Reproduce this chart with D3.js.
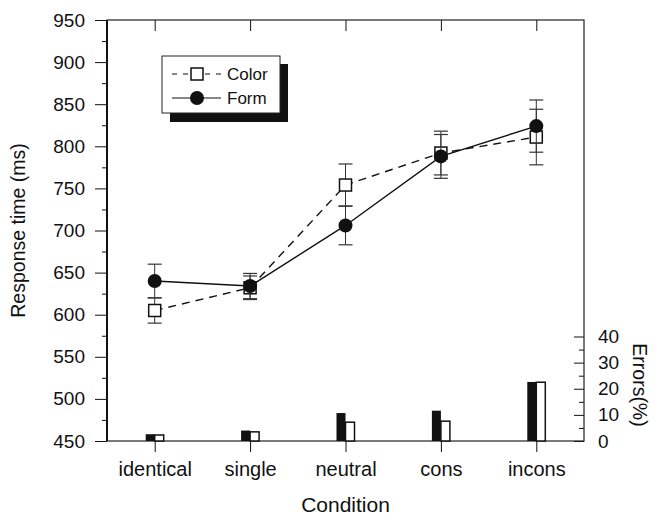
<!DOCTYPE html>
<html>
<head>
<meta charset="utf-8">
<script src="https://cdn.jsdelivr.net/npm/d3@7"></script>
<style>
  body { margin: 0; background: #fff; }
  svg { display: block; font-family: "Liberation Sans", Arial, sans-serif; }
  .axis text { font-size: 19px; fill: #111; }
  .axis line { stroke: #111; }
</style>
</head>
<body>
<svg id="chart" width="660" height="519"></svg>
<script>
// DATA
const conditions = ["identical", "single", "neutral", "cons", "incons"];
const colorRT = [605, 632, 754, 792, 811];
const colorSE = [15, 14, 25, 26, 33];
const formRT = [640, 634, 706, 788, 824];
const formSE = [20, 15, 23, 26, 31];
const formErrors = [2.6, 4, 10.7, 11.6, 22.6];
const colorErrors = [2.3, 3.5, 7.2, 7.6, 22.5];
const rtTicks = [450, 500, 550, 600, 650, 700, 750, 800, 850, 900, 950];
const rtMinor = [475, 525, 575, 625, 675, 725, 775, 825, 875, 925];
const errTicks = [0, 10, 20, 30, 40];
const errMinor = [5, 15, 25, 35];

const svg = d3.select("#chart");

let margin = { top: 20, right: 76, bottom: 78, left: 107 };
const width = 660 - margin.left - margin.right,
  height = 519 - margin.top - margin.bottom;

const g = svg.append("g").attr("transform", `translate(${margin.left},${margin.top})`);

const xScale = d3.scaleLinear().domain([0.5, 5.5]).range([0, width]);
const yScale = d3.scaleLinear().domain([450, 950]).range([height, 0]);
const yErr = d3.scaleLinear().domain([0, 40]).range([height, height - 104.5]);

// AXES
g.append("g").attr("class", "axis")
  .call(d3.axisLeft(yScale).tickValues(rtTicks).tickSize(12).tickPadding(10).tickSizeOuter(0));
g.append("g").attr("class", "axis")
  .call(d3.axisLeft(yScale).tickValues(rtMinor).tickSize(5).tickFormat(""));

g.append("g").attr("class", "axis")
  .attr("transform", `translate(0,${height})`)
  .call(d3.axisBottom(xScale).tickValues([1, 2, 3, 4, 5]).tickSize(11).tickPadding(10)
    .tickFormat((d) => conditions[d - 1]))
  .call((a) => a.selectAll("text").style("font-size", "20px"));

g.append("g").attr("class", "axis")
  .call(d3.axisTop(xScale).tickValues([1, 2, 3, 4, 5]).tickSize(-11).tickFormat(""));

g.append("g").attr("class", "axis")
  .attr("transform", `translate(${width},0)`)
  .call(d3.axisRight(yErr).tickValues(errTicks).tickSize(-10).tickPadding(14));
g.append("g").attr("class", "axis")
  .attr("transform", `translate(${width},0)`)
  .call(d3.axisRight(yErr).tickValues(errMinor).tickSize(-5).tickFormat(""));

g.selectAll(".axis .domain").remove();

// frame
g.append("rect")
  .attr("width", width).attr("height", height)
  .attr("fill", "none").attr("stroke", "#222").attr("stroke-width", 1.2);
g.append("line")
  .attr("x1", 0).attr("x2", 0).attr("y1", 0).attr("y2", height)
  .attr("stroke", "#111").attr("stroke-width", 2);

// ERROR RATE BARS
const barW = 9;
g.selectAll("rect.form-bar").data(formErrors).join("rect")
  .attr("class", "form-bar")
  .attr("x", (d, i) => xScale(i + 1) - barW)
  .attr("y", (d) => yErr(d))
  .attr("width", barW)
  .attr("height", (d) => yErr(0) - yErr(d))
  .attr("fill", "#111");
g.selectAll("rect.color-bar").data(colorErrors).join("rect")
  .attr("class", "color-bar")
  .attr("x", (d, i) => xScale(i + 1))
  .attr("y", (d) => yErr(d))
  .attr("width", barW)
  .attr("height", (d) => yErr(0) - yErr(d))
  .attr("fill", "#fff").attr("stroke", "#111").attr("stroke-width", 1.5);

// LINES
function series(values, se, dashed, marker) {
  const pts = values.map((v, i) => ({ x: i + 1, v: v, se: se[i] }));
  const sg = g.append("g");
  sg.selectAll("g.eb").data(pts).join("g").attr("class", "eb")
    .each(function (d) {
      const e = d3.select(this);
      const cx = xScale(d.x);
      e.append("line").attr("x1", cx).attr("x2", cx)
        .attr("y1", yScale(d.v - d.se)).attr("y2", yScale(d.v + d.se))
        .attr("stroke", "#333").attr("stroke-width", 1);
      [d.v - d.se, d.v + d.se].forEach((y) => {
        e.append("line").attr("x1", cx - 7).attr("x2", cx + 7)
          .attr("y1", yScale(y)).attr("y2", yScale(y))
          .attr("stroke", "#333").attr("stroke-width", 1.2);
      });
    });
  sg.append("path").datum(pts)
    .attr("fill", "none").attr("stroke", "#111").attr("stroke-width", 1.4)
    .attr("stroke-dasharray", dashed ? "8,6" : null)
    .attr("d", d3.line().x((d) => xScale(d.x)).y((d) => yScale(d.v)));
  if (marker === "square") {
    sg.selectAll("rect").data(pts).join("rect")
      .attr("x", (d) => xScale(d.x) - 6).attr("y", (d) => yScale(d.v) - 6)
      .attr("width", 12).attr("height", 12)
      .attr("fill", "#fff").attr("stroke", "#111").attr("stroke-width", 1.5);
  } else {
    sg.selectAll("circle").data(pts).join("circle")
      .attr("cx", (d) => xScale(d.x)).attr("cy", (d) => yScale(d.v))
      .attr("r", 7).attr("fill", "#111");
  }
}
series(colorRT, colorSE, true, "square");
series(formRT, formSE, false, "circle");

// LEGEND
const lg = svg.append("g").attr("transform", "translate(162,56)");
lg.append("rect").attr("x", 8).attr("y", 8).attr("width", 118).attr("height", 58).attr("fill", "#111");
lg.append("rect").attr("width", 118).attr("height", 57)
  .attr("fill", "#fff").attr("stroke", "#222").attr("stroke-width", 1);
const legendItems = [
  { label: "Color", dashed: true, marker: "square", y: 18 },
  { label: "Form", dashed: false, marker: "circle", y: 42 },
];
legendItems.forEach((it) => {
  lg.append("line").attr("x1", 10).attr("x2", 59).attr("y1", it.y).attr("y2", it.y)
    .attr("stroke", "#111").attr("stroke-width", 1.2)
    .attr("stroke-dasharray", it.dashed ? "5,6" : null);
  if (it.marker === "square") {
    lg.append("rect").attr("x", 29).attr("y", it.y - 6).attr("width", 12).attr("height", 12)
      .attr("fill", "#fff").attr("stroke", "#111").attr("stroke-width", 1.5);
  } else {
    lg.append("circle").attr("cx", 35).attr("cy", it.y).attr("r", 7).attr("fill", "#111");
  }
  lg.append("text").attr("x", 65).attr("y", it.y).attr("dy", "0.35em")
    .style("font-size", "17px").attr("fill", "#111").text(it.label);
});

// AXIS TITLES
svg.append("text")
  .attr("transform", `translate(25,${margin.top + height / 2}) rotate(-90)`)
  .attr("text-anchor", "middle").style("font-size", "19.5px").attr("fill", "#111")
  .text("Response time (ms)");
svg.append("text")
  .attr("x", margin.left + width / 2).attr("y", 512)
  .attr("text-anchor", "middle").style("font-size", "21px").attr("fill", "#111")
  .text("Condition");
svg.append("text")
  .attr("transform", `translate(633,385) rotate(90)`)
  .attr("text-anchor", "middle").style("font-size", "19.5px").attr("fill", "#111")
  .text("Errors(%)");
</script>
</body>
</html>
